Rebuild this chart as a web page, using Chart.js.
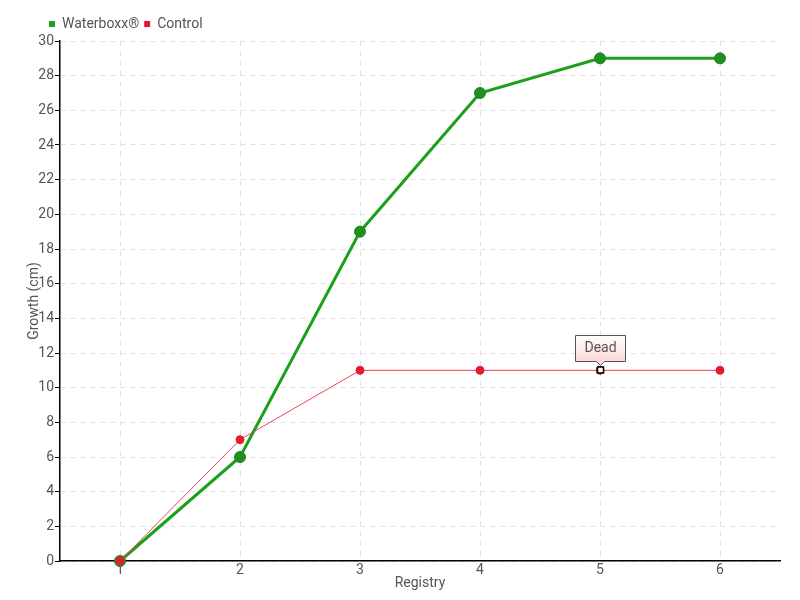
<!DOCTYPE html>
<html>
<head>
<meta charset="utf-8">
<script src="https://cdn.jsdelivr.net/npm/chart.js@4.4.1/dist/chart.umd.min.js"></script>
<style>
  html, body { margin: 0; padding: 0; background: #fff; }
  #wrap { width: 800px; height: 600px; }
</style>
</head>
<body>
<div id="wrap"><canvas id="growthChart" width="800" height="600"></canvas></div>
<script>
// ===== Data =====
const registries = ["1", "2", "3", "4", "5", "6"];
const waterboxx = [0, 6, 19, 27, 29, 29];
const control = [0, 7, 11, 11, 11, 11];
const deadIndex = 4;
const deadLabel = "Dead";

const FONT = "Roboto, 'DejaVu Sans', sans-serif";
const GRAY = "#555";

// ===== Legend offset plugin (legend starts over the y axis) =====
const legendShiftPlugin = {
    id: 'legendShift',
    afterLayout(chart) {
        chart.legend.left = 44;
    }
};

// ===== Dead annotation plugin =====
const deadNotePlugin = {
    id: 'deadNote',
    afterDatasetsDraw(chart) {
        const { ctx } = chart;
        const pt = chart.getDatasetMeta(1).data[deadIndex];
        const x = Math.round(pt.x) + 0.5;
        const y = Math.round(pt.y);
        const w = 50, h = 26;
        const left = x - 25, top = y - 34.5;
        ctx.save();
        const grad = ctx.createLinearGradient(0, top, 0, top + h);
        grad.addColorStop(0, "#ffffff");
        grad.addColorStop(1, "#fcd6d6");
        ctx.beginPath();
        ctx.moveTo(left, top);
        ctx.lineTo(left + w, top);
        ctx.lineTo(left + w, top + h);
        ctx.lineTo(x + 4, top + h);
        ctx.lineTo(x, top + h + 4);
        ctx.lineTo(x - 4, top + h);
        ctx.lineTo(left, top + h);
        ctx.closePath();
        ctx.fillStyle = grad;
        ctx.fill();
        ctx.strokeStyle = "#555";
        ctx.lineWidth = 1;
        ctx.stroke();
        ctx.font = "14px " + FONT;
        ctx.fillStyle = GRAY;
        ctx.textAlign = "center";
        ctx.textBaseline = "middle";
        ctx.fillText(deadLabel, x, top + h / 2);
        // hollow marker on the dead point
        ctx.fillStyle = "#fff";
        ctx.strokeStyle = "#000";
        ctx.lineWidth = 1.5;
        ctx.fillRect(x - 3, y - 3, 6, 6);
        ctx.strokeRect(x - 3, y - 3, 6, 6);
        ctx.restore();
    }
};

new Chart(document.getElementById("growthChart"), {
    type: "line",
    data: {
        labels: registries,
        datasets: [{
            label: "Waterboxx®",
            data: waterboxx,
            borderColor: "#1aa01a",
            backgroundColor: "#1e8c1e",
            borderWidth: 3,
            pointRadius: 5.5,
            pointBorderColor: "#2a7a2a",
            pointBorderWidth: 1,
            pointBackgroundColor: "#1e901e",
            tension: 0,
            clip: false,
            order: 2
        }, {
            label: "Control",
            data: control,
            borderColor: "#f04050",
            backgroundColor: "#e8192c",
            borderWidth: 1,
            pointRadius: 4,
            pointBorderColor: "#e02030",
            pointBorderWidth: 1,
            pointBackgroundColor: "#e8192c",
            tension: 0,
            clip: false,
            order: 1
        }]
    },
    options: {
        responsive: false,
        animation: false,
        layout: { padding: { left: 20, right: 20, top: 12, bottom: 8 } },
        plugins: {
            legend: {
                position: "top",
                align: "start",
                labels: {
                    boxWidth: 6,
                    boxHeight: 6,
                    padding: 5,
                    color: GRAY,
                    font: { family: FONT, size: 14 },
                    generateLabels(chart) {
                        return chart.data.datasets.map((ds, i) => ({
                            text: ds.label,
                            fillStyle: i === 0 ? "#1aa01a" : "#e8192c",
                            strokeStyle: i === 0 ? "#1aa01a" : "#e8192c",
                            lineWidth: 0,
                            fontColor: GRAY,
                            datasetIndex: i
                        }));
                    }
                }
            },
            tooltip: { enabled: false }
        },
        scales: {
            x: {
                offset: true,
                title: { display: true, text: "Registry", color: GRAY, font: { family: FONT, size: 14 }, padding: 0 },
                ticks: { color: GRAY, font: { family: FONT, size: 14 }, padding: 1 },
                grid: { color: "#e0e0e0", drawTicks: false, offset: false },
                border: { color: "#000", width: 1.5, dash: [5, 5] },
                afterFit(scale) { scale.height = 31; }
            },
            y: {
                min: 0,
                max: 30,
                title: { display: true, text: "Growth (cm)", color: GRAY, font: { family: FONT, size: 14 }, padding: { top: 6, bottom: 0 } },
                ticks: { stepSize: 2, color: GRAY, font: { family: FONT, size: 14 }, padding: 1 },
                grid: { color: "#e0e0e0", tickColor: "#000", tickLength: 5, tickBorderDash: [] },
                border: { color: "#000", width: 1.5, dash: [5, 5] },
                afterFit(scale) { scale.width = 40; }
            }
        }
    },
    plugins: [legendShiftPlugin, deadNotePlugin]
});
</script>
</body>
</html>
